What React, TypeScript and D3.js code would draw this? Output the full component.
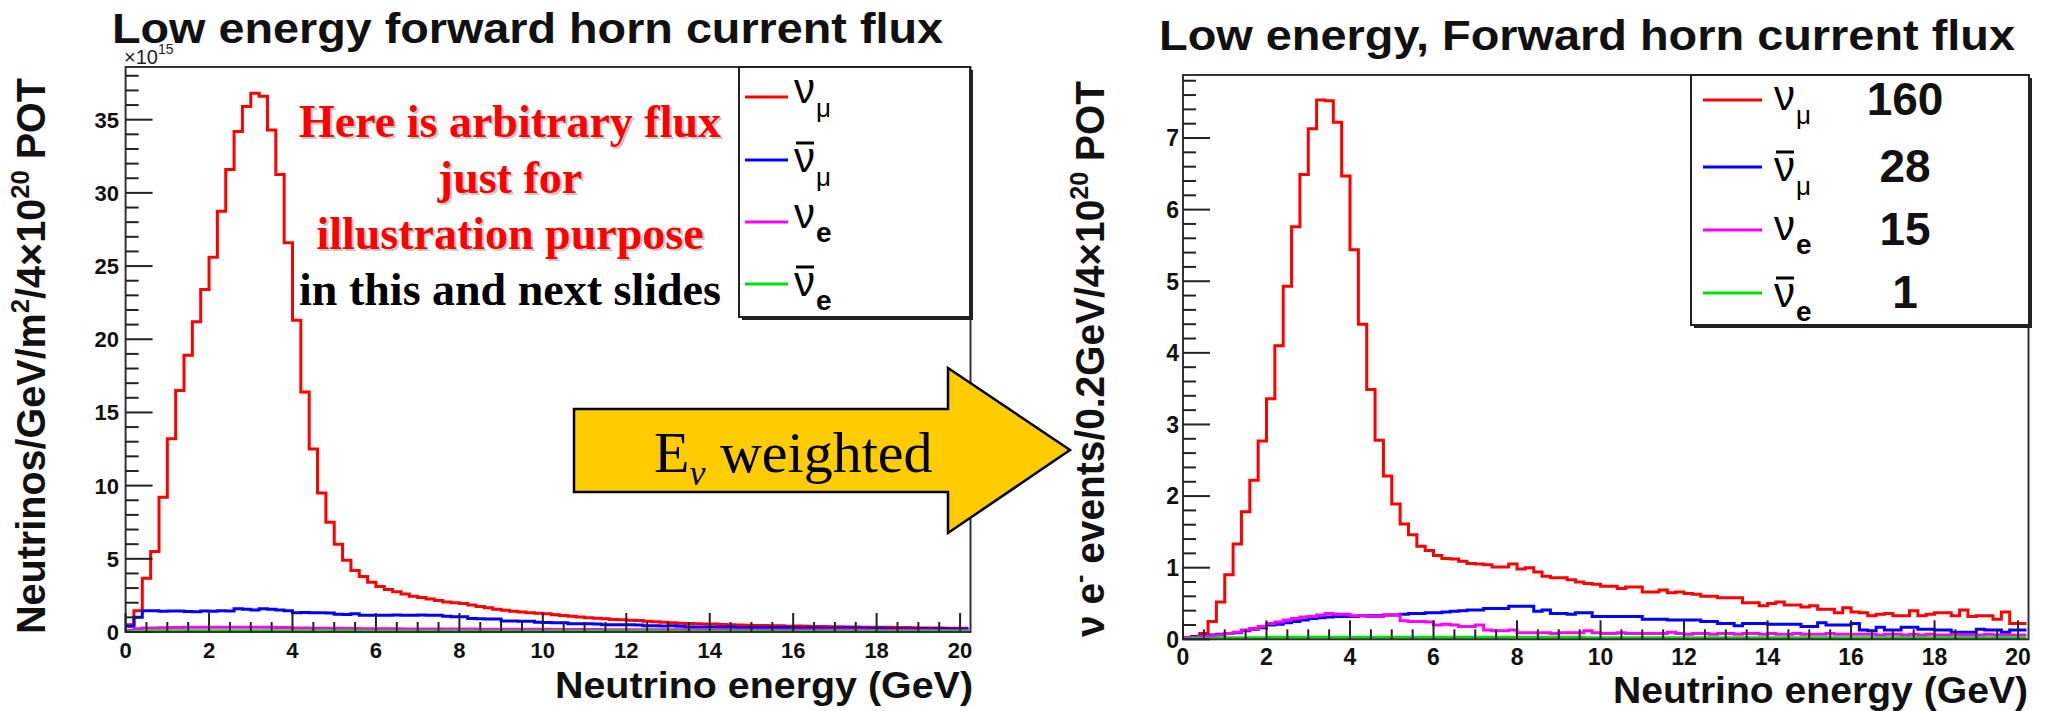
import React from 'react';
import * as d3 from 'd3';

// histogram bin width (GeV), both plots
const BIN = 0.2;

const xTicks = [0, 2, 4, 6, 8, 10, 12, 14, 16, 18, 20];
const leftYTicks = [0, 5, 10, 15, 20, 25, 30, 35];
const rightYTicks = [0, 1, 2, 3, 4, 5, 6, 7];

// left: flux, units of 1e15 / GeV / m2 / 4e20 POT
const leftNuMu = [
  0.5, 1.45, 3.67, 5.5, 9.2, 13.2, 16.5, 18.9, 21.2, 23.4,
  25.6, 28.75, 31.6, 34.2, 35.9, 36.8, 36.6, 34.3, 31.25, 26.6,
  21.3, 16.4, 12.5, 9.5, 7.5, 6.0, 4.9, 4.2, 3.8, 3.4,
  3.1, 2.9, 2.75, 2.6, 2.45, 2.35, 2.25, 2.15, 2.05, 2.0,
  1.95, 1.85, 1.75, 1.65, 1.55, 1.48, 1.42, 1.36, 1.32, 1.28,
  1.25, 1.18, 1.12, 1.08, 1.02, 0.98, 0.94, 0.9, 0.86, 0.83,
  0.8, 0.78, 0.74, 0.7, 0.66, 0.64, 0.6, 0.58, 0.56, 0.55,
  0.55, 0.52, 0.5, 0.48, 0.46, 0.45, 0.44, 0.42, 0.42, 0.4,
  0.41, 0.4, 0.38, 0.37, 0.36, 0.36, 0.35, 0.34, 0.33, 0.33,
  0.32, 0.32, 0.3, 0.3, 0.29, 0.28, 0.28, 0.27, 0.26, 0.25,
  0.25,
];
const leftNuMuBar = [
  0.4, 1.0, 1.45, 1.45, 1.42, 1.43, 1.44, 1.4, 1.38, 1.43,
  1.42, 1.45, 1.44, 1.58, 1.55, 1.5, 1.58, 1.55, 1.5, 1.45,
  1.32, 1.33, 1.32, 1.31, 1.3, 1.22, 1.2, 1.24, 1.15, 1.15,
  1.14, 1.15, 1.16, 1.15, 1.14, 1.16, 1.15, 1.15, 1.08, 1.05,
  1.04, 0.92, 0.9, 0.88, 0.88, 0.76, 0.75, 0.74, 0.74, 0.66,
  0.65, 0.64, 0.64, 0.57, 0.56, 0.56, 0.55, 0.5, 0.5, 0.49,
  0.5, 0.48, 0.42, 0.42, 0.41, 0.42, 0.4, 0.35, 0.34, 0.34,
  0.35, 0.33, 0.34, 0.3, 0.3, 0.31, 0.3, 0.29, 0.3, 0.29,
  0.28, 0.26, 0.27, 0.26, 0.25, 0.26, 0.27, 0.25, 0.26, 0.24,
  0.25, 0.22, 0.23, 0.22, 0.21, 0.22, 0.2, 0.22, 0.21, 0.2,
  0.21,
];
const leftNuE = [
  0.1, 0.22, 0.27, 0.28, 0.29, 0.3, 0.31, 0.32, 0.32, 0.33,
  0.32, 0.33, 0.32, 0.33, 0.32, 0.33, 0.32, 0.32, 0.31, 0.3,
  0.28, 0.27, 0.26, 0.26, 0.25, 0.25, 0.24, 0.24, 0.23, 0.23,
  0.22, 0.22, 0.22, 0.21, 0.21, 0.21, 0.2, 0.21, 0.2, 0.2,
  0.2, 0.2, 0.19, 0.19, 0.19, 0.19, 0.18, 0.18, 0.18, 0.18,
  0.18, 0.17, 0.17, 0.17, 0.17, 0.17, 0.17, 0.16, 0.16, 0.16,
  0.16, 0.16, 0.16, 0.16, 0.15, 0.15, 0.15, 0.15, 0.15, 0.15,
  0.15, 0.15, 0.14, 0.14, 0.14, 0.14, 0.14, 0.14, 0.14, 0.14,
  0.13, 0.13, 0.13, 0.13, 0.13, 0.13, 0.13, 0.13, 0.13, 0.12,
  0.12, 0.12, 0.12, 0.12, 0.12, 0.12, 0.12, 0.12, 0.11, 0.11,
  0.11,
];
const leftNuEBar = [
  0.02, 0.05, 0.07, 0.08, 0.08, 0.09, 0.09, 0.09, 0.09, 0.09,
  0.09, 0.09, 0.09, 0.09, 0.09, 0.09, 0.09, 0.09, 0.09, 0.08,
  0.08, 0.08, 0.08, 0.08, 0.08, 0.08, 0.08, 0.08, 0.07, 0.07,
  0.07, 0.07, 0.07, 0.07, 0.07, 0.07, 0.07, 0.07, 0.07, 0.07,
  0.07, 0.07, 0.07, 0.06, 0.06, 0.06, 0.06, 0.06, 0.06, 0.06,
  0.06, 0.06, 0.06, 0.06, 0.06, 0.06, 0.06, 0.06, 0.06, 0.06,
  0.06, 0.06, 0.06, 0.06, 0.05, 0.05, 0.05, 0.05, 0.05, 0.05,
  0.05, 0.05, 0.05, 0.05, 0.05, 0.05, 0.05, 0.05, 0.05, 0.05,
  0.05, 0.05, 0.05, 0.05, 0.05, 0.05, 0.05, 0.05, 0.05, 0.05,
  0.05, 0.05, 0.05, 0.05, 0.05, 0.05, 0.05, 0.05, 0.05, 0.05,
  0.05,
];

// right: events / 0.2 GeV / 4e20 POT
const rightNuMu = [
  0.0, 0.03, 0.08, 0.25, 0.52, 0.9, 1.33, 1.78, 2.22, 2.77,
  3.36, 4.1, 4.93, 5.76, 6.49, 7.13, 7.53, 7.52, 7.22, 6.47,
  5.44, 4.4, 3.49, 2.78, 2.28, 1.89, 1.61, 1.46, 1.3, 1.24,
  1.17, 1.13, 1.12, 1.09, 1.06, 1.05, 1.04, 1.01, 1.01, 1.05,
  0.98, 1.0, 0.94, 0.88, 0.86, 0.86, 0.83, 0.8, 0.78, 0.77,
  0.74, 0.74, 0.71, 0.73, 0.73, 0.66, 0.66, 0.69, 0.65, 0.66,
  0.64, 0.63, 0.6, 0.6, 0.58, 0.58, 0.58, 0.51, 0.51, 0.47,
  0.5, 0.52, 0.48, 0.48, 0.45, 0.47, 0.42, 0.42, 0.37, 0.44,
  0.38, 0.37, 0.33, 0.35, 0.36, 0.33, 0.33, 0.4, 0.33, 0.35,
  0.37, 0.37, 0.33, 0.41, 0.32, 0.33, 0.33, 0.28, 0.38, 0.22,
  0.22,
];
const rightNuMuBar = [
  0.02, 0.04, 0.05, 0.06, 0.07, 0.08, 0.09, 0.12, 0.14, 0.16,
  0.2, 0.21, 0.23, 0.25, 0.27, 0.29, 0.3, 0.31, 0.32, 0.32,
  0.32, 0.33, 0.33, 0.33, 0.34, 0.34, 0.35, 0.36, 0.36, 0.37,
  0.37, 0.38, 0.39, 0.4, 0.41, 0.41, 0.43, 0.43, 0.43, 0.46,
  0.46, 0.46, 0.39, 0.41, 0.36, 0.36, 0.35, 0.37, 0.37, 0.32,
  0.32, 0.32, 0.32, 0.32, 0.32, 0.28, 0.28, 0.28, 0.27, 0.27,
  0.27, 0.27, 0.25, 0.25, 0.22, 0.22, 0.19, 0.22, 0.22, 0.22,
  0.21, 0.21, 0.21, 0.21, 0.18, 0.18, 0.23, 0.2, 0.2, 0.2,
  0.22, 0.13, 0.12, 0.17, 0.13, 0.13, 0.17, 0.17, 0.14, 0.14,
  0.13, 0.13, 0.1, 0.1, 0.1, 0.14, 0.13, 0.13, 0.1, 0.13,
  0.13,
];
const rightNuE = [
  0.02, 0.03, 0.04, 0.05, 0.06, 0.08, 0.1, 0.13, 0.15, 0.18,
  0.22, 0.24, 0.27, 0.29, 0.31, 0.32, 0.34, 0.36, 0.35, 0.35,
  0.33, 0.33, 0.32, 0.32, 0.34, 0.34, 0.26, 0.25, 0.25, 0.24,
  0.2, 0.21, 0.2, 0.18, 0.18, 0.2, 0.13, 0.12, 0.12, 0.13,
  0.09, 0.09, 0.09, 0.09, 0.08, 0.09, 0.09, 0.09, 0.12, 0.09,
  0.08, 0.08, 0.09, 0.08, 0.08, 0.08, 0.08, 0.08, 0.1, 0.08,
  0.07, 0.08, 0.08, 0.07, 0.08, 0.08, 0.07, 0.08, 0.08, 0.07,
  0.08, 0.07, 0.07, 0.08, 0.07, 0.07, 0.07, 0.08, 0.07, 0.07,
  0.07, 0.07, 0.07, 0.06, 0.07, 0.07, 0.06, 0.07, 0.06, 0.07,
  0.06, 0.06, 0.07, 0.06, 0.06, 0.06, 0.07, 0.06, 0.06, 0.06,
  0.06,
];
const rightNuEBar = [
  0.0, 0.01, 0.01, 0.01, 0.02, 0.02, 0.02, 0.02, 0.02, 0.02,
  0.03, 0.03, 0.03, 0.03, 0.03, 0.03, 0.03, 0.03, 0.03, 0.03,
  0.03, 0.03, 0.03, 0.03, 0.03, 0.03, 0.03, 0.03, 0.03, 0.03,
  0.03, 0.03, 0.03, 0.03, 0.03, 0.03, 0.03, 0.03, 0.03, 0.03,
  0.03, 0.03, 0.03, 0.03, 0.03, 0.03, 0.03, 0.03, 0.02, 0.02,
  0.02, 0.02, 0.02, 0.02, 0.02, 0.02, 0.02, 0.02, 0.02, 0.02,
  0.02, 0.02, 0.02, 0.02, 0.02, 0.02, 0.02, 0.02, 0.02, 0.02,
  0.02, 0.02, 0.02, 0.02, 0.02, 0.02, 0.02, 0.02, 0.02, 0.02,
  0.02, 0.02, 0.02, 0.02, 0.02, 0.02, 0.02, 0.02, 0.02, 0.02,
  0.02, 0.02, 0.02, 0.02, 0.02, 0.02, 0.02, 0.02, 0.02, 0.02,
  0.02,
];

const legendEntries = [
  { sub: 'μ', bar: false },
  { sub: 'μ', bar: true },
  { sub: 'e', bar: false },
  { sub: 'e', bar: true },
];
const rightCounts = ['160', '28', '15', '1'];
const noteLines = ['Here is arbitrary flux', 'just for', 'illustration purpose', 'in this and next slides'];

const COLORS = ['#ff0000', '#0000ff', '#ff00ff', '#00e000'];
const SANS = '"Liberation Sans", Arial, Helvetica, sans-serif';
const SERIF = '"Liberation Serif", "Times New Roman", serif';

type Scale = d3.ScaleLinear<number, number>;

const Histo = ({ values, x, y, color }: { values: number[]; x: Scale; y: Scale; color: string }) => {
  const pts: [number, number][] = values.map((v, i) => [i * BIN, v]);
  pts.push([values.length * BIN, values[values.length - 1]]);
  const line = d3.line<[number, number]>()
    .x(d => x(d[0]))
    .y(d => y(d[1]))
    .curve(d3.curveStepAfter);
  return <path d={line(pts) || ''} fill="none" stroke={color} strokeWidth={3} />;
};

const NuLabel = ({ x, y, sub, bar }: { x: number; y: number; sub: string; bar: boolean }) => (
  <g>
    {bar && <line x1={x + 2} x2={x + 20} y1={y - 29} y2={y - 29} stroke="#000" strokeWidth={3} />}
    <text x={x} y={y} fontFamily={SANS} fontSize={42} fill="#000">ν</text>
    <text x={x + 22} y={y + 14} fontFamily={SANS} fontSize={sub === 'e' ? 28 : 26}
      fontWeight={sub === 'e' ? 'bold' : 'normal'} fill="#000">{sub}</text>
  </g>
);

type PanelProps = {
  id: string;
  x0: number; x1: number; y0: number; y1: number;
  yMax: number; yTicks: number[]; yMinorStep: number;
  series: number[][];
  tickFont: number; xLabelY: number; yLabelX: number;
};

const Panel = ({ id, x0, x1, y0, y1, yMax, yTicks, yMinorStep, series, tickFont, xLabelY, yLabelX }: PanelProps) => {
  const x = d3.scaleLinear().domain([0, 20.25]).range([x0, x1]);
  const y = d3.scaleLinear().domain([0, yMax]).range([y1, y0]);
  const yMinor = d3.range(0, yMax, yMinorStep).filter(v => !yTicks.some(t => Math.abs(t - v) < 1e-6));
  const xMinor = d3.range(0, 20.25, 0.5).filter(v => v % 2 !== 0);
  return (
    <g>
      <defs>
        <clipPath id={id}>
          <rect x={x0} y={y0} width={x1 - x0} height={y1 - y0} />
        </clipPath>
      </defs>
      <g clipPath={`url(#${id})`}>
        {series.map((s, i) => <Histo key={i} values={s} x={x} y={y} color={COLORS[i]} />)}
      </g>
      <rect x={x0} y={y0} width={x1 - x0} height={y1 - y0} fill="none" stroke="#333" strokeWidth={2} />
      {yTicks.map(t => (
        <g key={'yt' + t}>
          <line x1={x0} x2={x0 + 27} y1={y(t)} y2={y(t)} stroke="#222" strokeWidth={2} />
          <text x={yLabelX} y={y(t) + tickFont * 0.36} textAnchor="end" fontFamily={SANS}
            fontWeight="bold" fontSize={tickFont} fill="#111">{t}</text>
        </g>
      ))}
      {yMinor.map(t => (
        <line key={'ym' + t} x1={x0} x2={x0 + 13} y1={y(t)} y2={y(t)} stroke="#222" strokeWidth={2} />
      ))}
      {xTicks.map(t => (
        <g key={'xt' + t}>
          <line x1={x(t)} x2={x(t)} y1={y1} y2={y1 - 19} stroke="#222" strokeWidth={2} />
          <text x={x(t)} y={xLabelY} textAnchor="middle" fontFamily={SANS} fontWeight="bold"
            fontSize={tickFont} fill="#111">{t}</text>
        </g>
      ))}
      {xMinor.map(t => (
        <line key={'xm' + t} x1={x(t)} x2={x(t)} y1={y1} y2={y1 - 10} stroke="#222" strokeWidth={2} />
      ))}
    </g>
  );
};

export default function App() {
  const leftRows = [97, 160, 222, 284];
  const rightRows = [100, 167, 230, 293];
  return (
    <div style={{ position: 'absolute', left: 0, top: 0, width: 2049, height: 711, background: '#fff' }}>
      <svg width={2049} height={711} style={{ display: 'block' }}>
        <rect x={0} y={0} width={2049} height={711} fill="#fff" />

        {/* left plot */}
        <text x={124} y={64} fontFamily={SANS} fontSize={20} fill="#222">×10
          <tspan dy={-10} fontSize={14}>15</tspan>
        </text>
        <text x={112} y={43} fontFamily={SANS} fontWeight="bold" fontSize={42} fill="#111"
          textLength={831} lengthAdjust="spacingAndGlyphs">Low energy forward horn current flux</text>
        <Panel id="clipL" x0={125.6} x1={970.5} y0={67} y1={632} yMax={38.6} yTicks={leftYTicks}
          yMinorStep={1} series={[leftNuMu, leftNuMuBar, leftNuE, leftNuEBar]}
          tickFont={22} xLabelY={658} yLabelX={119} />
        <text transform="translate(45,356) rotate(-90)" textAnchor="middle" fontFamily={SANS}
          fontWeight="bold" fontSize={40} fill="#111" textLength={556} lengthAdjust="spacingAndGlyphs">
          Neutrinos/GeV/m<tspan dy={-16} fontSize={26}>2</tspan>
          <tspan dy={16}>/4×10</tspan><tspan dy={-16} fontSize={26}>20</tspan>
          <tspan dy={16}>{'  POT'}</tspan>
        </text>
        <text x={555} y={698} fontFamily={SANS} fontWeight="bold" fontSize={36} fill="#111"
          textLength={418} lengthAdjust="spacingAndGlyphs">Neutrino energy (GeV)</text>

        {/* left legend */}
        <rect x={742} y={70} width={231} height={250} fill="#222" />
        <rect x={739} y={67} width={231} height={250} fill="#fff" stroke="#222" strokeWidth={2} />
        {legendEntries.map((e, i) => (
          <g key={'ll' + i}>
            <line x1={745} x2={788} y1={leftRows[i]} y2={leftRows[i]} stroke={COLORS[i]} strokeWidth={3} />
            <NuLabel x={794} y={leftRows[i] + (e.bar ? 12 : 6)} sub={e.sub} bar={e.bar} />
          </g>
        ))}

        {/* note */}
        {noteLines.map((t, i) => (
          <g key={'n' + i}>
            {i < 3 && (
              <text x={512} y={139 + i * 56} textAnchor="middle" fontFamily={SERIF} fontWeight="bold"
                fontSize={46} fill="#c8c8c8">{t}</text>
            )}
            <text x={510} y={137 + i * 56} textAnchor="middle" fontFamily={SERIF} fontWeight="bold"
              fontSize={46} fill={i < 3 ? '#ff0000' : '#000'}>{t}</text>
          </g>
        ))}

        {/* right plot */}
        <text x={1159} y={50} fontFamily={SANS} fontWeight="bold" fontSize={42} fill="#111"
          textLength={856} lengthAdjust="spacingAndGlyphs">Low energy, Forward horn current flux</text>
        <Panel id="clipR" x0={1183} x1={2028.5} y0={75} y1={639.3} yMax={7.88} yTicks={rightYTicks}
          yMinorStep={0.2} series={[rightNuMu, rightNuMuBar, rightNuE, rightNuEBar]}
          tickFont={23} xLabelY={665} yLabelX={1179} />
        <text transform="translate(1104,359) rotate(-90)" textAnchor="middle" fontFamily={SANS}
          fontWeight="bold" fontSize={40} fill="#111" textLength={556} lengthAdjust="spacingAndGlyphs">
          ν e<tspan dy={-16} fontSize={26}>-</tspan>
          <tspan dy={16}> events/0.2GeV/4×10</tspan><tspan dy={-16} fontSize={26}>20</tspan>
          <tspan dy={16}>{'  POT'}</tspan>
        </text>
        <text x={1613} y={703} fontFamily={SANS} fontWeight="bold" fontSize={36} fill="#111"
          textLength={415} lengthAdjust="spacingAndGlyphs">Neutrino energy (GeV)</text>

        {/* right legend */}
        <rect x={1694} y={78} width={338} height={250} fill="#222" />
        <rect x={1691} y={75} width={338} height={250} fill="#fff" stroke="#222" strokeWidth={2} />
        {legendEntries.map((e, i) => (
          <g key={'rl' + i}>
            <line x1={1703} x2={1762} y1={rightRows[i]} y2={rightRows[i]} stroke={COLORS[i]} strokeWidth={3} />
            <NuLabel x={1774} y={rightRows[i] + (e.bar ? 14 : 10)} sub={e.sub} bar={e.bar} />
            <text x={1905} y={rightRows[i] + 15} textAnchor="middle" fontFamily={SANS} fontWeight="bold"
              fontSize={46} fill="#111">{rightCounts[i]}</text>
          </g>
        ))}

        {/* arrow */}
        <polygon points="574,409 948,409 948,368 1070,450 948,533 948,492 574,492"
          fill="#ffcc00" stroke="#000" strokeWidth={2.5} />
        <text x={654} y={472} fontFamily={SERIF} fontSize={58} fill="#000">E
          <tspan dy={13} fontSize={36} fontStyle="italic">ν</tspan>
          <tspan dy={-13}> weighted</tspan>
        </text>
      </svg>
    </div>
  );
}
